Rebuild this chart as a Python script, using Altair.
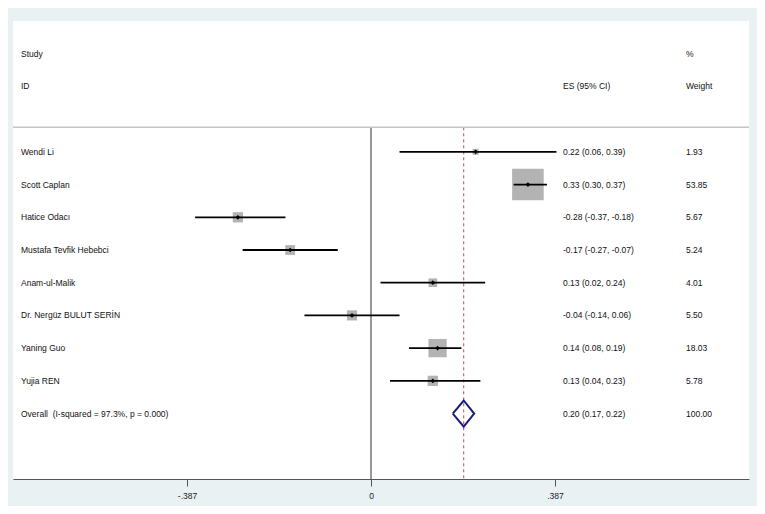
import altair as alt
import pandas as pd

# ---- data ----
studies = ["Wendi Li", "Scott Caplan", "Hatice Odacı", "Mustafa Tevfik Hebebci",
           "Anam-ul-Malik", "Dr. Nergüz BULUT SERİN", "Yaning Guo", "Yujia REN"]
es = [0.22, 0.33, -0.28, -0.17, 0.13, -0.04, 0.14, 0.13]
lci = [0.06, 0.30, -0.37, -0.27, 0.02, -0.14, 0.08, 0.04]
uci = [0.39, 0.37, -0.18, -0.07, 0.24, 0.06, 0.19, 0.23]
weights = [1.93, 53.85, 5.67, 5.24, 4.01, 5.50, 18.03, 5.78]

overall_label = "Overall \u00a0(I-squared = 97.3%, p = 0.000)"
overall_es = 0.195
overall_lci = 0.172
overall_uci = 0.217
overall_weight = 100.00

header_rows = [-3, -2]
header_study = ["Study", "ID"]
header_es = ["", "ES (95% CI)"]
header_weight = ["%", "Weight"]

tick_values = [-0.387, 0, 0.387]
tick_labels = ["-.387", "0", ".387"]

# ---- tables ----
n = len(studies)
rows = list(range(n))
overall_row = n
top_row = -0.75
bottom_row = 10

df = pd.DataFrame({"row": rows, "study": studies, "es": es, "lci": lci,
                   "uci": uci, "weight": weights})

txt = pd.DataFrame({
    "row": header_rows + rows + [overall_row],
    "study": header_study + studies + [overall_label],
    "esl": header_es + [f"{e:.2f} ({l:.2f}, {u:.2f})" for e, l, u in zip(es, lci, uci)]
           + [f"{overall_es:.2f} ({overall_lci:.2f}, {overall_uci:.2f})"],
    "wl": header_weight + [f"{w:.2f}" for w in weights] + [f"{overall_weight:.2f}"],
})

vlines = pd.DataFrame({"x": [0.0, overall_es], "y": [top_row, top_row],
                       "y2": [bottom_row, bottom_row], "kind": ["zero", "overall"]})
sepdf = pd.DataFrame({"y": [top_row]})

h = 0.4
diamond = pd.DataFrame({
    "x": [overall_lci, overall_es, overall_uci, overall_es, overall_lci],
    "y": [overall_row, overall_row - h, overall_row, overall_row + h, overall_row],
    "o": [0, 1, 2, 3, 4],
})

FONT = "Liberation Sans"
FS = 8.5
TC = "#111111"
W, H = 736, 458
xscale = alt.Scale(domain=[-0.753, 0.795], nice=False, zero=False)
yscale = alt.Scale(domain=[-4, 10], reverse=True, nice=False, zero=False)

label_expr = " : ".join(
    f"abs(datum.value - ({v})) < 1e-6 ? '{lab}'" for v, lab in zip(tick_values, tick_labels)
) + " : ''"

xaxis = alt.Axis(values=tick_values, labelExpr=label_expr, title=None, grid=False,
                 domainColor="#555555", domainWidth=1.2, tickColor="#555555",
                 tickSize=7, labelFont=FONT, labelFontSize=8.5, labelColor="#222222",
                 labelPadding=5)


def X(f):
    return alt.X(f, scale=xscale, axis=xaxis)


def Y(f):
    return alt.Y(f, scale=yscale, axis=None)


sep = alt.Chart(sepdf).mark_rule(color="#c4c4c4", strokeWidth=1.6).encode(
    x=alt.value(0), x2=alt.value(W), y=Y("y:Q"))

zero = alt.Chart(vlines).transform_filter("datum.kind == 'zero'").mark_rule(
    color="#333333", strokeWidth=1).encode(x=X("x:Q"), y=Y("y:Q"), y2="y2:Q")

dash = alt.Chart(vlines).transform_filter("datum.kind == 'overall'").mark_rule(
    color="#c8474a", strokeWidth=1, strokeDash=[3, 3]).encode(
    x=X("x:Q"), y=Y("y:Q"), y2="y2:Q")

base = alt.Chart(df)
boxes = base.mark_square(color="#b3b3b3", opacity=1).encode(
    x=X("es:Q"),
    y=Y("row:Q"),
    size=alt.Size("weight:Q", scale=alt.Scale(domain=[0, 100], range=[0, 1850]),
                  legend=None),
)

ci = base.mark_rule(color="black", strokeWidth=1.8).encode(
    x=X("lci:Q"), x2="uci:Q", y=Y("row:Q"))

dots = base.mark_point(shape="diamond", filled=True, color="black", size=22, opacity=1).encode(
    x=X("es:Q"), y=Y("row:Q"))

dia = alt.Chart(diamond).mark_line(color="#1c1c78", strokeWidth=2).encode(
    x=X("x:Q"), y=Y("y:Q"), order="o:Q")

tbase = alt.Chart(txt)
t_study = tbase.mark_text(align="left", baseline="middle", font=FONT, fontSize=FS,
                          color=TC).encode(x=alt.value(8), y=Y("row:Q"), text="study:N")
t_es = tbase.mark_text(align="left", baseline="middle", font=FONT, fontSize=FS,
                       color=TC).encode(x=alt.value(550), y=Y("row:Q"), text="esl:N")
t_w = tbase.mark_text(align="left", baseline="middle", font=FONT, fontSize=FS,
                      color=TC).encode(x=alt.value(673), y=Y("row:Q"), text="wl:N")

chart = alt.layer(zero, dash, sep, boxes, ci, dots, dia, t_study, t_es, t_w).properties(
    width=W, height=H, autosize="none",
    padding={"left": 5, "top": 13, "right": 8, "bottom": 27},
    background="#e9f1f3",
).configure_view(fill="white", strokeWidth=0)

chart.save("out.html", embed_options={"renderer": "svg", "actions": False})
